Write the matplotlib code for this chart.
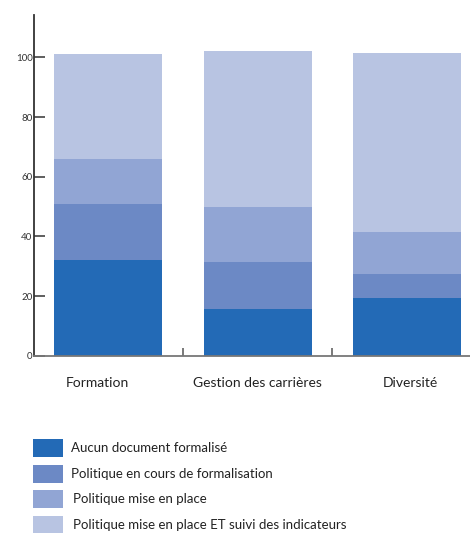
import numpy as np
import matplotlib.pyplot as plt
from matplotlib.patches import Rectangle

plt.rcParams["font.family"] = ["Lato", "DejaVu Sans"]

# Data (percent of companies)
categories = ["Formation", "Gestion des carrières", "Diversité"]
series_labels = [
    "Aucun document formalisé",
    "Politique en cours de formalisation",
    "Politique mise en place",
    "Politique mise en place ET suivi des indicateurs",
]
aucun = [32, 15.5, 19.5]
en_cours = [19, 16, 8]
mise_en_place = [15, 18.5, 14]
suivi = [35, 52, 60]
y_ticks = [0, 20, 40, 60, 80, 100]

colors = ["#236ab6", "#6c89c5", "#91a5d4", "#b8c4e2"]

fig = plt.figure(figsize=(4.70, 5.33), dpi=100)
ax = fig.add_axes([0.0713, 0.3327, 0.9287, 0.6397])

x = np.arange(len(categories))
bottom = np.zeros(len(categories))
for vals, col in zip([aucun, en_cours, mise_en_place, suivi], colors):
    ax.bar(x, vals, width=0.72, bottom=bottom, color=col, linewidth=0)
    bottom += np.array(vals)

ax.set_xlim(-0.5, 2.42)
ax.set_ylim(0, 114.3)

for s in ["top", "right"]:
    ax.spines[s].set_visible(False)
ax.spines["left"].set_color("#333333")
ax.spines["left"].set_linewidth(1.3)
ax.spines["bottom"].set_color("#777777")
ax.spines["bottom"].set_linewidth(1.3)

ax.set_yticks(y_ticks)
ax.set_yticklabels([str(t) for t in y_ticks], fontsize=7, color="#333333")
ax.tick_params(axis="y", direction="in", length=8, width=1.1, color="#333333", pad=-3)
for lbl in ax.get_yticklabels():
    lbl.set_horizontalalignment("right")
    lbl.set_x(-0.012)

ax.set_xticks([0.5, 1.5])
ax.set_xticklabels([])
ax.tick_params(axis="x", which="major", direction="in", length=6, width=1.1, color="#555555")

# category labels (the first one sits a bit left of its bar in the original)
trans = ax.get_xaxis_transform()
for xi, cat, dx in zip(x, categories, [-0.07, 0, 0.02]):
    ax.text(xi + dx, -0.08, cat, transform=trans, fontsize=10, color="#222222",
            ha="center", va="center")

# legend drawn by hand
for i, (lab, col) in enumerate(zip(series_labels, colors)):
    yc = 1 - (448 + i * 25.7) / 533
    fig.add_artist(Rectangle((33 / 470, yc - 9 / 533), 30 / 470, 18 / 533,
                             transform=fig.transFigure, color=col, linewidth=0))
    fig.text(71 / 470 + (0.004 if i >= 2 else 0), yc, lab, fontsize=9.5,
             color="#222222", va="center", ha="left")

fig.savefig("out.png", dpi=100)
